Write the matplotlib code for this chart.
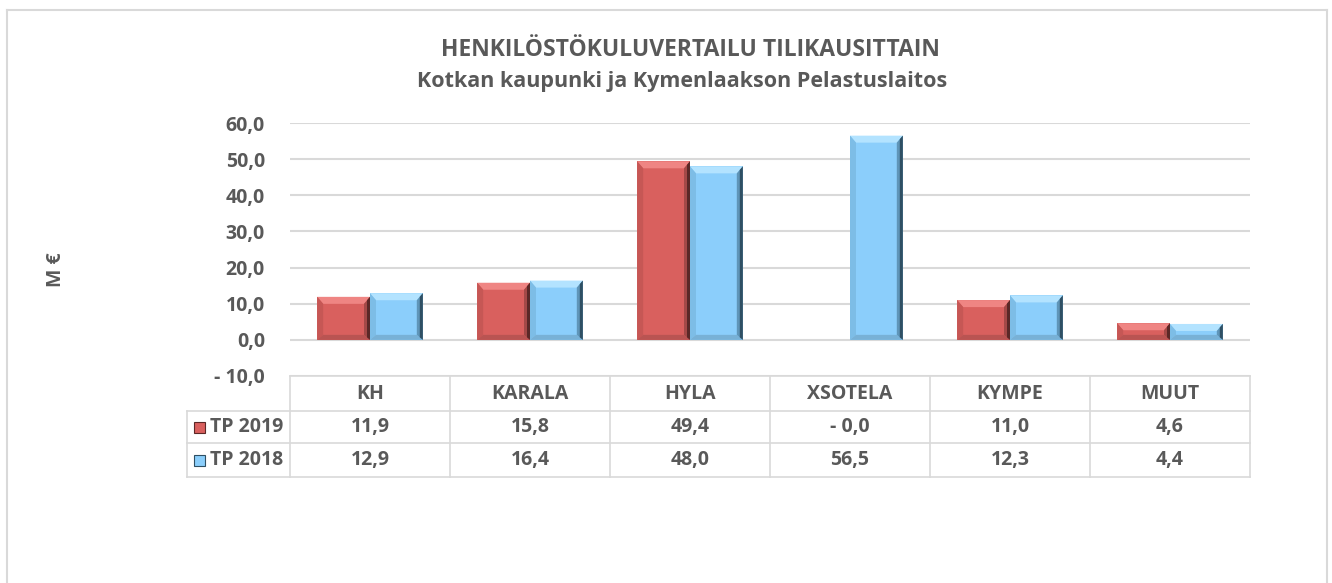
import matplotlib
matplotlib.use("Agg")
import matplotlib.pyplot as plt
from matplotlib.patches import Polygon, Rectangle
from matplotlib.lines import Line2D
from matplotlib.transforms import IdentityTransform

categories = ["KH", "KARALA", "HYLA", "XSOTELA", "KYMPE", "MUUT"]
series_names = ["TP 2019", "TP 2018"]
tp2019 = [11.9, 15.8, 49.4, -0.02, 11.0, 4.6]
tp2018 = [12.9, 16.4, 48.0, 56.5, 12.3, 4.4]
yticks = [-10, 0, 10, 20, 30, 40, 50, 60]
title1 = "HENKILÖSTÖKULUVERTAILU TILIKAUSITTAIN"
title2 = "Kotkan kaupunki ja Kymenlaakson Pelastuslaitos"
ylabel = "M €"

W, H = 1332, 583
FONT = ["Open Sans", "DejaVu Sans"]
TXT = "#595959"
GRID = "#d9d9d9"
FS = 14
FT = 16.5
FT2 = 15.5

face = {"TP 2019": "#d9605e", "TP 2018": "#8bcefb"}
light = {"TP 2019": "#ef8583", "TP 2018": "#b3e3ff"}
mid = {"TP 2019": "#c65755", "TP 2018": "#7dbde6"}
dark_in = {"TP 2019": "#a44a48", "TP 2018": "#5f95b8"}
dark_out = {"TP 2019": "#5c2827", "TP 2018": "#2f4f63"}
bottomc = {"TP 2019": "#b95452", "TP 2018": "#78b1d6"}


def fmt(v):
    s = f"{abs(v):.1f}".replace(".", ",")
    return ("- " + s) if v < 0 else s


def fx(px):
    return px / W


def fy(py):
    return 1 - py / H


fig = plt.figure(figsize=(W / 100, H / 100), dpi=100)
ax = fig.add_axes([fx(290), fy(376), 960 / W, 253 / H])
ax.set_xlim(-0.5, len(categories) - 0.5)
ax.set_ylim(-10, 60)
ax.set_yticks(yticks)
ax.set_yticklabels([fmt(v) for v in yticks], fontfamily=FONT, fontweight="bold",
                   fontsize=FS, color=TXT)
ax.set_xticks([])
ax.tick_params(axis="y", length=0, pad=18)
for s in ax.spines.values():
    s.set_visible(False)
ax.yaxis.grid(True, color=GRID, lw=1.5)
ax.set_axisbelow(True)

bw = 0.33
xs = list(range(len(categories)))
bars = {}
bars["TP 2019"] = ax.bar([x - bw / 2 for x in xs], tp2019, width=bw,
                         color=face["TP 2019"], zorder=2, lw=0)
bars["TP 2018"] = ax.bar([x + bw / 2 for x in xs], tp2018, width=bw,
                         color=face["TP 2018"], zorder=2, lw=0)

fig.canvas.draw()


def poly(pts, c):
    p = Polygon(pts, closed=True, facecolor=c, edgecolor="none",
                transform=IdentityTransform(), zorder=3)
    ax.add_artist(p)


def bevel(x0, y0, x1, y1, name, bh=6, bv=7):
    h = y1 - y0
    if h < 2:
        return
    bv = min(bv, h / 2.0)
    bvb = min(5, h / 2.0)
    bh = min(bh, (x1 - x0) / 2.0)
    poly([(x0, y1), (x1, y1), (x1 - bh, y1 - bv), (x0 + bh, y1 - bv)], light[name])
    poly([(x0, y1), (x0 + bh, y1 - bv), (x0 + bh, y0 + bvb), (x0, y0)], mid[name])
    poly([(x0, y0), (x0 + bh, y0 + bvb), (x1 - bh, y0 + bvb), (x1, y0)], bottomc[name])
    poly([(x1, y1), (x1, y0), (x1 - bh, y0 + bvb), (x1 - bh, y1 - bv)], dark_in[name])
    hh = bh / 2.0
    fr = hh / bh
    poly([(x1, y1), (x1, y0), (x1 - hh, y0 + bvb * fr), (x1 - hh, y1 - bv * fr)], dark_out[name])


for name in series_names:
    for r in bars[name]:
        bb = r.get_window_extent()
        bevel(bb.x0, min(bb.y0, bb.y1), bb.x1, max(bb.y0, bb.y1), name)

# Titles
fig.text(fx(690), fy(50), title1, ha="center", va="center", fontfamily=FONT,
         fontweight="bold", fontsize=FT, color=TXT)
fig.text(fx(682), fy(81), title2, ha="center", va="center", fontfamily=FONT,
         fontweight="bold", fontsize=FT2, color=TXT)
fig.text(fx(56), fy(270), ylabel, ha="center", va="center", rotation=90,
         fontfamily=FONT, fontweight="bold", fontsize=FS, color=TXT)

# Outer frame
for (xa, ya, xb, yb) in [(7, 10, 7, 583), (7, 10, 1327, 10), (1327, 10, 1327, 583)]:
    fig.add_artist(Line2D([fx(xa), fx(xb)], [fy(ya), fy(yb)], color=GRID, lw=1.5,
                          transform=fig.transFigure))

# Data table
col0, colw = 290, 160
rows_y = [376, 411, 443, 477]
tl = dict(color=GRID, lw=1.2, transform=fig.transFigure)
fig.add_artist(Line2D([fx(col0), fx(col0 + colw * 6)], [fy(376), fy(376)], **tl))
for yy in rows_y[1:]:
    fig.add_artist(Line2D([fx(187), fx(col0 + colw * 6)], [fy(yy), fy(yy)], **tl))
fig.add_artist(Line2D([fx(187), fx(187)], [fy(411), fy(477)], **tl))
for i in range(7):
    xx = col0 + colw * i
    fig.add_artist(Line2D([fx(xx), fx(xx)], [fy(376), fy(477)], **tl))

tk = dict(ha="center", va="center", fontfamily=FONT, fontweight="bold",
          fontsize=FS, color=TXT)
for i, c in enumerate(categories):
    cx = col0 + colw * i + colw / 2
    fig.text(fx(cx), fy(394), c, **tk)
    fig.text(fx(cx), fy(427), fmt(tp2019[i]), **tk)
    fig.text(fx(cx), fy(460), fmt(tp2018[i]), **tk)

for name, yc in zip(series_names, [427, 460]):
    sq = 11
    fig.add_artist(Rectangle((fx(194), fy(yc + sq / 2)), sq / W, sq / H,
                             facecolor=face[name], edgecolor=dark_out[name], lw=0.8,
                             transform=fig.transFigure))
    fig.text(fx(210), fy(yc), name, ha="left", va="center", fontfamily=FONT,
             fontweight="bold", fontsize=FS, color=TXT)

fig.savefig("out.png", dpi=100)
